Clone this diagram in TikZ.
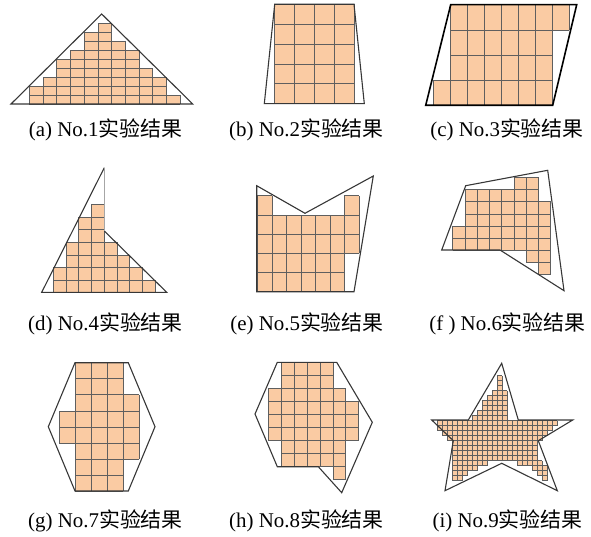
\documentclass[tikz,border=0pt]{standalone}
\usepackage{fontspec}
\setmainfont{Liberation Serif}
\newfontfamily\cjk{Noto Sans CJK SC}
\definecolor{cellpeach}{RGB}{250,203,163}
\definecolor{gridgray}{RGB}{95,95,95}
\definecolor{edgegray}{RGB}{55,55,55}
\tikzset{
  cellfill/.style={fill=cellpeach},
  cellgrid/.style={draw=gridgray, line width=0.6bp},
  outline/.style={draw=edgegray, line width=1.1bp, line join=miter},
  caption/.style={font=\fontsize{21}{23}\selectfont, inner sep=0pt}
}
% filled cells of one result, blocks given as x0/y0/x1/y1 in cell units
\newcommand{\cellblocks}[1]{%
  \foreach \xa/\ya/\xb/\yb in {#1}{\fill[cellfill] (\xa,\ya) rectangle (\xb,\yb);}
  \foreach \xa/\ya/\xb/\yb in {#1}{%
    \foreach \i in {\xa,...,\xb}{\draw[cellgrid] (\i,\ya) -- (\i,\yb);}
    \foreach \j in {\ya,...,\yb}{\draw[cellgrid] (\xa,\j) -- (\xb,\j);}
  }}

\begin{document}
\begin{tikzpicture}[x=1bp, y=-1bp]
  \useasboundingbox (0,0) rectangle (591,537);

  % row 1
  \begin{scope}[shift={(29.3,104)}, x=13.7bp, y=9bp]
    \cellblocks{0/0/1/2, 1/0/2/3, 2/0/3/5, 3/0/4/6, 4/0/5/8, 5/0/6/9, 6/0/7/7, 7/0/8/6, 8/0/9/4, 9/0/10/3, 10/0/11/1}
  \end{scope}
  \draw[outline] (11,104) -- (101.7,14) -- (192.7,104) -- cycle;

  \begin{scope}[shift={(274.7,103.7)}, x=19.8bp, y=19.9bp]
    \cellblocks{0/0/4/5}
  \end{scope}
  \draw[outline] (274.7,4.3) -- (354,4.3) -- (364.3,103.7) -- (264.3,103.7) -- cycle;

  \begin{scope}[shift={(433.3,105.3)}, x=17bp, y=25.15bp]
    \cellblocks{0/0/7/1, 1/1/7/3, 1/3/8/4}
  \end{scope}
  \draw[outline, draw=black, line width=1.6bp] (450.7,4.7) -- (576.7,4.7) -- (552.7,105.3) -- (425.7,105.3) -- cycle;

  \node[caption] (capA) at (105.5,130) {(a) No.1{\cjk 实验结果}};
  \node[caption] (capB) at (306.5,130) {(b) No.2{\cjk 实验结果}};
  \node[caption] (capC) at (507,130) {(c) No.3{\cjk 实验结果}};

  % row 2
  \begin{scope}[shift={(53.3,292.3)}, x=12.7bp, y=12.5bp]
    \cellblocks{0/0/1/2, 1/0/2/4, 2/0/3/6, 3/0/4/7, 4/0/5/4, 5/0/6/3, 6/0/7/2, 7/0/8/1}
  \end{scope}
  \draw[outline] (104.3,231) -- (166.7,292.3) -- (41.7,292.3) -- (104.3,167.7);
  \draw[outline, draw=gray!70, line width=0.8bp] (104.3,167.7) -- (104.3,231);

  \begin{scope}[shift={(257.3,291.7)}, x=14.5bp, y=19.2bp]
    \cellblocks{0/0/1/5, 1/0/6/4, 6/2/7/5}
  \end{scope}
  \draw[outline] (256.7,185.7) -- (305,213.3) -- (373.3,176) -- (354,291.7) -- (256.7,291.7) -- cycle;

  \begin{scope}[shift={(452.7,274.7)}, x=12.25bp, y=12.17bp]
    \cellblocks{0/2/1/4, 1/2/5/7, 5/2/6/8, 6/1/7/8, 7/0/8/6}
  \end{scope}
  \draw[outline] (465.7,185.7) -- (547.7,170.3) -- (564,290.7) -- (500,250) -- (441.7,250) -- cycle;

  \node[caption] (capD) at (105.5,324) {(d) No.4{\cjk 实验结果}};
  \node[caption] (capE) at (307,324) {(e) No.5{\cjk 实验结果}};
  \node[caption] (capF) at (507.5,324) {(f ) No.6{\cjk 实验结果}};

  % row 3
  \begin{scope}[shift={(59,491)}, x=16bp, y=16.04bp]
    \cellblocks{0/3/1/5, 1/0/4/8, 4/2/5/6}
  \end{scope}
  \draw[outline] (75,362.7) -- (128.3,362.7) -- (155,426.7) -- (128.3,491) -- (75,491) -- (48.3,426.7) -- cycle;

  \begin{scope}[shift={(268.3,479.3)}, x=12.9bp, y=13bp]
    \cellblocks{0/3/1/7, 1/1/5/9, 5/0/6/7, 6/3/7/6}
  \end{scope}
  \draw[outline] (277.3,362.3) -- (336.7,362.3) -- (372.3,422.3) -- (341.7,492.7) -- (318.3,466.7) -- (277.3,466.7) -- (255,414) -- cycle;

  \begin{scope}[shift={(437.3,480.7)}, x=5bp, y=5bp]
    \cellblocks{3/0/5/1, 21/0/22/1, 3/1/6/2, 20/1/22/2, 3/2/8/3, 19/2/22/3, 3/3/10/4, 16/3/21/4, 3/4/20/8, 2/8/21/9, 1/9/22/10, 0/10/23/11, 0/11/24/12, 7/12/14/13, 8/13/14/14, 9/14/14/16, 10/16/14/17, 11/17/14/18, 12/18/13/21}
  \end{scope}
  \draw[outline] (501.7,363.3) -- (518.3,420) -- (572.7,420) -- (538.3,440.7) -- (557.3,490.7) -- (501.7,463.3) -- (445,490.7) -- (453.3,440.7) -- (431.7,420) -- (468.3,420) -- cycle;

  \node[caption] (capG) at (105.5,521) {(g) No.7{\cjk 实验结果}};
  \node[caption] (capH) at (306.5,521) {(h) No.8{\cjk 实验结果}};
  \node[caption] (capI) at (507.5,521) {(i) No.9{\cjk 实验结果}};
\end{tikzpicture}
\end{document}
